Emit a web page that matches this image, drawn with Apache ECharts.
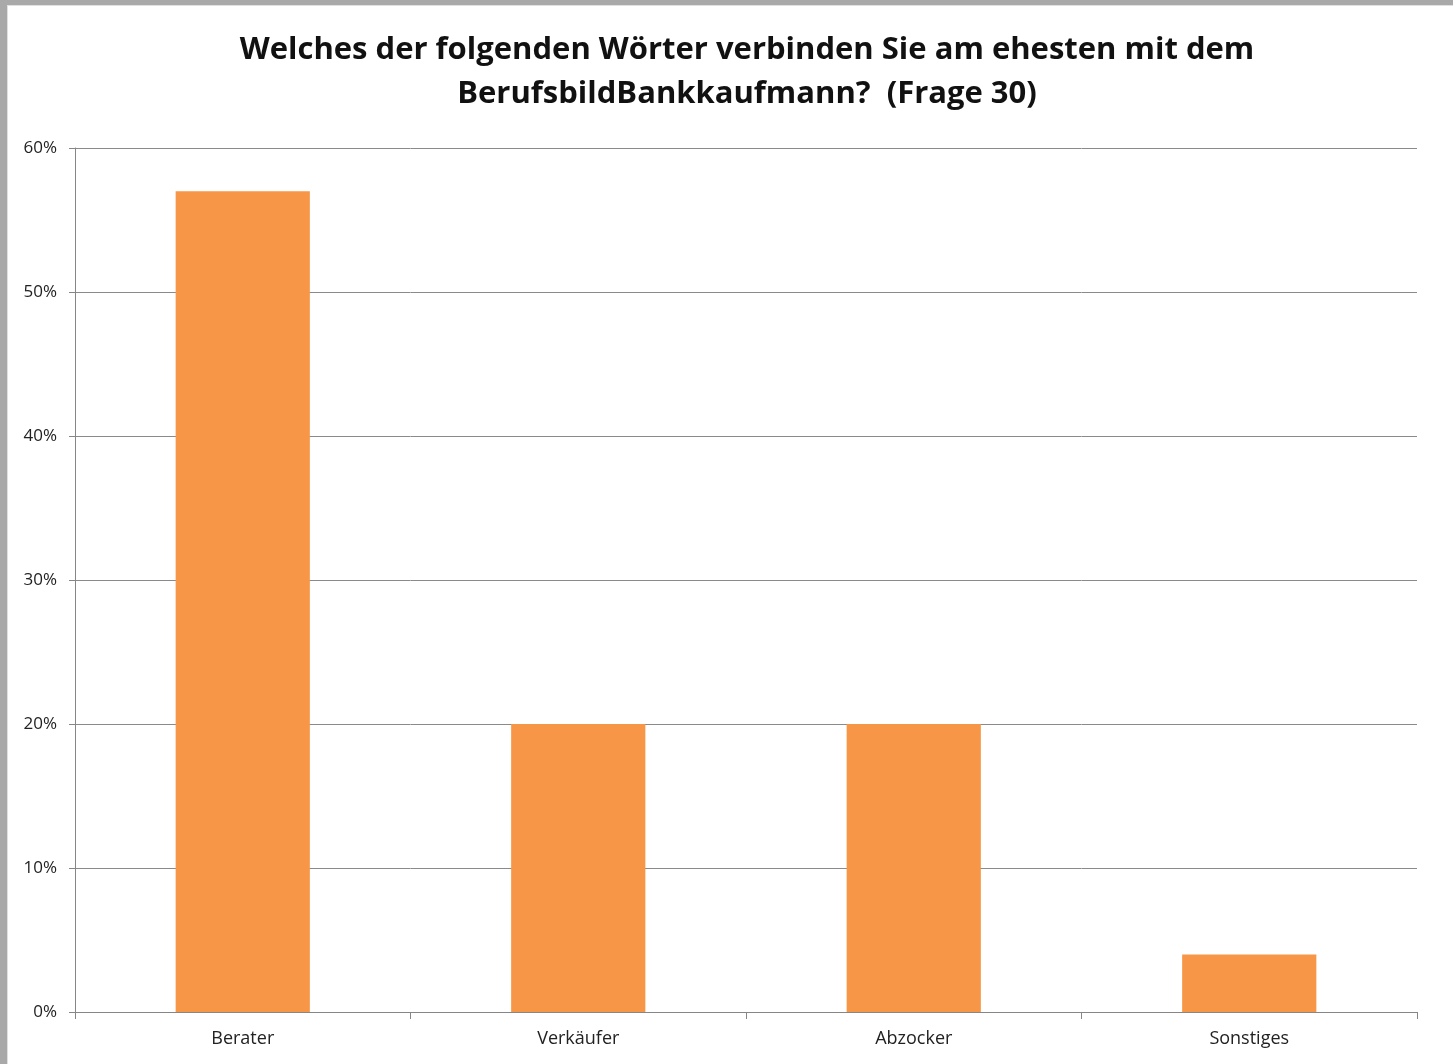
<!DOCTYPE html>
<html>
<head>
<meta charset="utf-8">
<script src="https://cdn.jsdelivr.net/npm/echarts@6/dist/echarts.min.js"></script>
<style>
html,body{margin:0;padding:0;width:1453px;height:1064px;overflow:hidden;background:#a9a9a9;}
#frame{position:absolute;left:7px;top:5px;right:0;bottom:0;background:#fff;border-left:1px solid #e0e0e0;border-top:1px solid #e0e0e0;}
#chart{width:100%;height:100%;}
</style>
</head>
<body>
<div id="frame"><div id="chart"></div></div>
<script>
// Frage 30 - Antworten in Prozent
var categories = ['Berater', 'Verkäufer', 'Abzocker', 'Sonstiges'];
var values = [57, 20, 20, 4];
var yTicks = {min: 0, max: 60, step: 10};
var titleText = 'Welches der folgenden Wörter verbinden Sie am ehesten mit dem\nBerufsbildBankkaufmann?  (Frage 30)';

var myChart = echarts.init(document.getElementById('chart'));
var option = {
    animation: false,
    title: {
        text: titleText,
        left: 734,
        textAlign: 'center',
        top: 17,
        textStyle: {
            fontFamily: 'Open Sans',
            fontWeight: 'bold',
            fontSize: 31,
            lineHeight: 44,
            color: '#111'
        }
    },
    grid: {
        left: 67,
        right: 36,
        top: 142,
        bottom: 52
    },
    xAxis: {
        type: 'category',
        data: categories,
        axisLine: {lineStyle: {color: '#868686', width: 1}},
        axisTick: {show: true, length: 7, lineStyle: {color: '#868686'}},
        axisLabel: {
            color: '#222',
            fontFamily: 'Open Sans',
            fontSize: 18,
            margin: 18
        }
    },
    yAxis: {
        type: 'value',
        min: yTicks.min,
        max: yTicks.max,
        interval: yTicks.step,
        axisLine: {show: true, lineStyle: {color: '#868686', width: 1}},
        axisTick: {show: true, length: 6, lineStyle: {color: '#868686'}},
        splitLine: {show: true, lineStyle: {color: '#8a8a8a', width: 1}},
        axisLabel: {
            formatter: '{value}%',
            color: '#222',
            fontFamily: 'Open Sans',
            fontSize: 17,
            margin: 18
        }
    },
    series: [{
        type: 'bar',
        data: values,
        barWidth: '40%',
        itemStyle: {color: '#F79646'}
    }]
};
myChart.setOption(option);
window.addEventListener('resize', function(){ myChart.resize(); });
</script>
</body>
</html>
